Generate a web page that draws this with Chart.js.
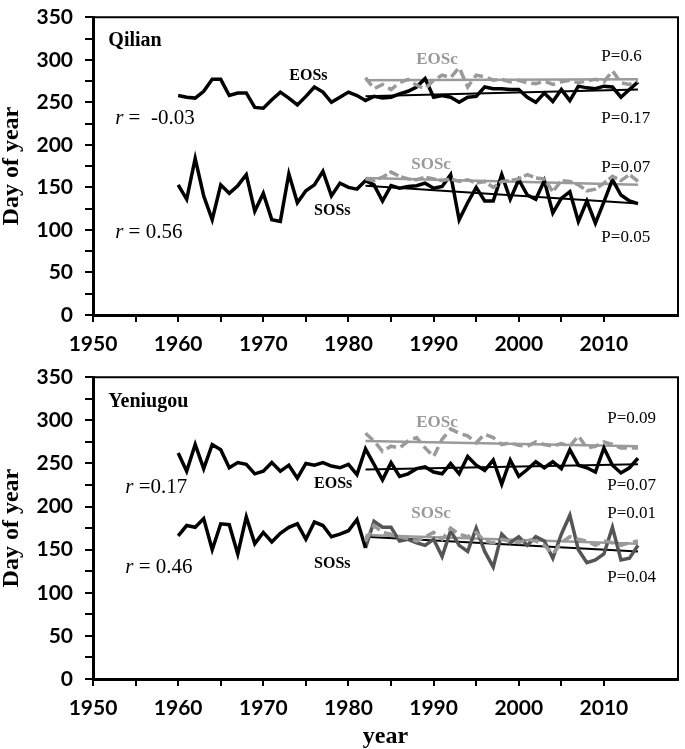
<!DOCTYPE html>
<html>
<head>
<meta charset="utf-8">
<script src="https://cdn.jsdelivr.net/npm/chart.js@4.4.1/dist/chart.umd.min.js"></script>
<style>
  html, body { margin: 0; padding: 0; background: #fff; }
  canvas { display: block; }
</style>
</head>
<body>
<canvas id="graf-qilian" width="685" height="360"></canvas>
<canvas id="graf-yeniugou" width="685" height="389"></canvas>
<script>
/*
  Fenologia (SOS/EOS) — Qilian e Yeniugou.
  s = série da estação (1960-2014), c = série de satélite (1982-2014).
*/

const PRETO = '#000', CINZA = '#9a9a9a', CINZA_ESC = '#555';
const SERIF = '"Liberation Serif", "Times New Roman", serif';
const SANS = 'Lato, "Open Sans", sans-serif';

const ANO_ESTACAO = 1960, ANO_SATELITE = 1982;
const ANOS_TENDENCIA = [1982, 2014];

// Qilian
const QL_EOSS = [258, 256, 255, 263, 277, 277, 258, 261, 261, 244, 243, 253, 262, 255, 247, 257, 268, 262, 250, 256, 262, 258,
                 252, 257, 255, 256, 260, 263, 268, 278, 256, 258, 256, 250, 256, 257, 268, 266, 266, 265, 265, 256, 250, 261,
                 251, 265, 252, 269, 267, 266, 269, 268, 256, 265, 274];
const QL_EOSC = [279, 266, 271, 265, 273, 277, 270, 266, 276, 282, 279, 291, 268, 282, 280, 276, 277, 274, 276, 273, 272, 275,
                 271, 274, 276, 273, 275, 277, 274, 287, 273, 271, 275];
const QL_SOSS = [153, 136, 184, 140, 112, 153, 143, 152, 165, 122, 143, 112, 110, 166, 132, 146, 153, 169, 140, 155, 150, 148,
                 158, 153, 134, 152, 149, 151, 152, 155, 149, 151, 165, 112, 132, 150, 134, 134, 165, 136, 159, 141, 136, 158,
                 120, 137, 145, 110, 134, 108, 133, 159, 141, 134, 131];
const QL_SOSC = [160, 158, 162, 168, 163, 160, 159, 162, 160, 158, 160, 157, 159, 155, 157, 150, 157, 158, 160, 165, 161, 160,
                 145, 158, 157, 153, 146, 148, 155, 163, 158, 165, 157];
const QL_TEND = { eoss: [257, 265], eosc: [276, 277], soss: [152, 131], sosc: [161, 153] };

// Yeniugou
const YN_EOSS = [262, 241, 272, 244, 272, 266, 245, 251, 249, 238, 241, 251, 241, 248, 233, 250, 248, 251, 247, 245, 249, 237,
                 267, 249, 231, 251, 235, 238, 244, 246, 240, 238, 250, 238, 258, 248, 242, 254, 226, 254, 235, 243, 252, 245,
                 252, 244, 266, 248, 245, 240, 268, 248, 239, 245, 256];
const YN_EOSC = [285, 276, 264, 270, 268, 276, 280, 268, 258, 278, 290, 285, 282, 274, 284, 280, 272, 274, 271, 270, 275, 272,
                 270, 273, 270, 282, 268, 270, 275, 272, 268, 268, 268];
const YN_SOSS = [166, 178, 176, 186, 150, 180, 179, 145, 188, 157, 170, 159, 169, 176, 180, 162, 182, 178, 165, 168, 172, 185,
                 152, 183, 176, 176, 160, 162, 158, 155, 162, 142, 172, 155, 148, 175, 148, 130, 168, 158, 165, 155, 165, 160,
                 140, 168, 190, 150, 135, 138, 145, 176, 138, 140, 155];
const YN_SOSC = [160, 178, 170, 168, 165, 163, 160, 165, 170, 162, 175, 168, 165, 170, 160, 158, 162, 160, 158, 162, 160, 155,
                 145, 158, 165, 162, 160, 155, 160, 158, 155, 158, 160];
const YN_TEND = { eoss: [243, 249], eosc: [276, 270], soss: [165, 148], sosc: [167, 157] };

function pontos(anoIni, valores) {
  return valores.map((v, i) => ({ x: anoIni + i, y: v }));
}

function linha(data, cor, largura, tracejado) {
  return { data, borderColor: cor, borderWidth: largura, borderDash: tracejado || [],
           pointRadius: 0, tension: 0, fill: false, borderJoinStyle: 'miter' };
}

// moldura do gráfico + textos (posições em coordenadas de dados)
const molduraPlugin = {
  id: 'moldura',
  afterDraw(chart, args, opts) {
    const { ctx, chartArea: a, scales: { x, y } } = chart;
    ctx.save();
    ctx.strokeStyle = PRETO;
    ctx.lineWidth = 2;
    ctx.strokeRect(a.left, a.top, a.width, a.height);
    ctx.textBaseline = 'middle';
    (opts.textos || []).forEach((t) => {
      let px = x.getPixelForValue(t.x);
      const py = y.getPixelForValue(t.y);
      const partes = t.partes || [{ txt: t.txt }];
      const fontes = partes.map((p) => `${p.italic ? 'italic ' : ''}${t.bold ? 'bold ' : ''}${t.tam}px ${SERIF}`);
      const larguras = partes.map((p, i) => { ctx.font = fontes[i]; return ctx.measureText(p.txt).width; });
      const total = larguras.reduce((s, w) => s + w, 0);
      if (t.centro) px -= total / 2;
      ctx.fillStyle = t.cor || PRETO;
      ctx.textAlign = 'left';
      partes.forEach((p, i) => { ctx.font = fontes[i]; ctx.fillText(p.txt, px, py); px += larguras[i]; });
    });
    ctx.restore();
  },
};

function opcoes(cfg) {
  return {
    responsive: false, animation: false,
    layout: { padding: { top: cfg.topo, right: 7, left: 0, bottom: 0 } },
    plugins: { legend: { display: false }, tooltip: { enabled: false }, moldura: { textos: cfg.textos } },
    scales: {
      x: {
        type: 'linear', min: 1950, max: 2018.7,
        afterBuildTicks: (s) => { s.ticks = s.ticks.filter((t) => t.value % 5 === 0); },
        afterFit: (s) => { s.height = cfg.alturaX; },
        ticks: { stepSize: 5, color: PRETO, padding: 10, maxRotation: 0, autoSkip: false,
                 font: { family: SANS, size: 21, weight: 'bold' },
                 callback: (v) => (v % 10 === 0 ? String(v) : '') },
        grid: { drawOnChartArea: false, drawTicks: true, tickLength: 7, color: PRETO, lineWidth: 2 },
        border: { display: true, color: PRETO, width: 3 },
        title: { display: !!cfg.tituloX, text: cfg.tituloX || '', color: PRETO, padding: 0,
                 font: { family: SERIF, size: 24, weight: 'bold', lineHeight: 1 } },
      },
      y: {
        min: 0, max: 350,
        afterFit: (s) => { s.width = 93; },
        ticks: { stepSize: 25, color: PRETO, padding: 12, autoSkip: false,
                 font: { family: SANS, size: 21, weight: 'bold', lineHeight: 0.5 },
                 callback: (v) => (v % 50 === 0 ? String(v) : '') },
        grid: { drawOnChartArea: false, drawTicks: true, tickLength: 8, color: PRETO, lineWidth: 2 },
        border: { display: true, color: PRETO, width: 3 },
        title: { display: true, text: 'Day of year', color: PRETO, padding: 0,
                 font: { family: SERIF, size: 24, weight: 'bold', lineHeight: 1 } },
      },
    },
  };
}

function textosPainel(nome, r1, r2, p, pos) {
  return [
    { txt: nome, x: 1951.8, y: pos.nome, tam: 20, bold: true },
    { txt: 'EOSs', x: pos.eossX, y: pos.eossY, tam: 16, bold: true, centro: true },
    { txt: 'EOSc', x: 1990.4, y: pos.eosc, tam: 17, bold: true, centro: true, cor: CINZA },
    { txt: 'SOSc', x: 1989.7, y: pos.sosc, tam: 17, bold: true, centro: true, cor: CINZA },
    { txt: 'SOSs', x: 1978.1, y: pos.soss, tam: 16, bold: true, centro: true },
    { partes: [{ txt: 'r', italic: true }, { txt: r1 }], x: pos.rX, y: pos.r1, tam: 21 },
    { partes: [{ txt: 'r', italic: true }, { txt: r2 }], x: pos.rX, y: pos.r2, tam: 21 },
    { txt: p[0], x: pos.pX, y: pos.p[0], tam: 17 },
    { txt: p[1], x: pos.pX, y: pos.p[1], tam: 17 },
    { txt: p[2], x: pos.pX, y: pos.p[2], tam: 17 },
    { txt: p[3], x: pos.pX, y: pos.p[3], tam: 17 },
  ];
}

// Qilian
new Chart(document.getElementById('graf-qilian'), {
  type: 'line',
  data: {
    datasets: [
      linha(pontos(ANO_SATELITE, QL_EOSC), CINZA, 3.5, [10, 5]),
      linha(pontos(ANO_SATELITE, QL_SOSC), CINZA, 3.5, [10, 3]),
      linha(pontos(ANO_ESTACAO, QL_EOSS), PRETO, 3.5),
      linha(pontos(ANO_ESTACAO, QL_SOSS), PRETO, 3.5),
      linha(ANOS_TENDENCIA.map((a, i) => ({ x: a, y: QL_TEND.eosc[i] })), CINZA, 2.5),
      linha(ANOS_TENDENCIA.map((a, i) => ({ x: a, y: QL_TEND.sosc[i] })), CINZA, 2.5),
      linha(ANOS_TENDENCIA.map((a, i) => ({ x: a, y: QL_TEND.eoss[i] })), PRETO, 2),
      linha(ANOS_TENDENCIA.map((a, i) => ({ x: a, y: QL_TEND.soss[i] })), PRETO, 2),
    ],
  },
  options: opcoes({
    topo: 10, alturaX: 45,
    textos: textosPainel('Qilian', ' =  -0.03', ' = 0.56', ['P=0.6', 'P=0.17', 'P=0.07', 'P=0.05'],
      { nome: 322, eossX: 1975.3, eossY: 281, eosc: 300, sosc: 177, soss: 122, rX: 1952.6, r1: 231, r2: 96.5,
        pX: 2009.7, p: [303.5, 231, 173, 90.7] }),
  }),
  plugins: [molduraPlugin],
});

// Yeniugou — SOSs passa a cinza escuro a partir de 1982
const corteYN = ANO_SATELITE - ANO_ESTACAO;
new Chart(document.getElementById('graf-yeniugou'), {
  type: 'line',
  data: {
    datasets: [
      linha(pontos(ANO_SATELITE, YN_EOSC), CINZA, 3.5, [10, 5]),
      linha(pontos(ANO_SATELITE, YN_SOSC), CINZA, 3.5, [10, 5]),
      linha(pontos(ANO_ESTACAO, YN_EOSS), PRETO, 3.5),
      linha(pontos(ANO_ESTACAO, YN_SOSS.slice(0, corteYN + 1)), PRETO, 3.5),
      linha(pontos(ANO_SATELITE, YN_SOSS.slice(corteYN)), CINZA_ESC, 3.5),
      linha(ANOS_TENDENCIA.map((a, i) => ({ x: a, y: YN_TEND.eosc[i] })), CINZA, 2.5),
      linha(ANOS_TENDENCIA.map((a, i) => ({ x: a, y: YN_TEND.sosc[i] })), CINZA, 2.5),
      linha(ANOS_TENDENCIA.map((a, i) => ({ x: a, y: YN_TEND.eoss[i] })), PRETO, 2),
      linha(ANOS_TENDENCIA.map((a, i) => ({ x: a, y: YN_TEND.soss[i] })), PRETO, 2),
    ],
  },
  options: opcoes({
    topo: 15, alturaX: 70, tituloX: 'year',
    textos: textosPainel('Yeniugou', ' =0.17', ' = 0.46', ['P=0.09', 'P=0.07', 'P=0.01', 'P=0.04'],
      { nome: 322, eossX: 1978.2, eossY: 226, eosc: 297, sosc: 192, soss: 134, rX: 1953.8, r1: 222, r2: 129,
        pX: 2010.4, p: [302.6, 224, 192, 118] }),
  }),
  plugins: [molduraPlugin],
});
</script>
</body>
</html>
